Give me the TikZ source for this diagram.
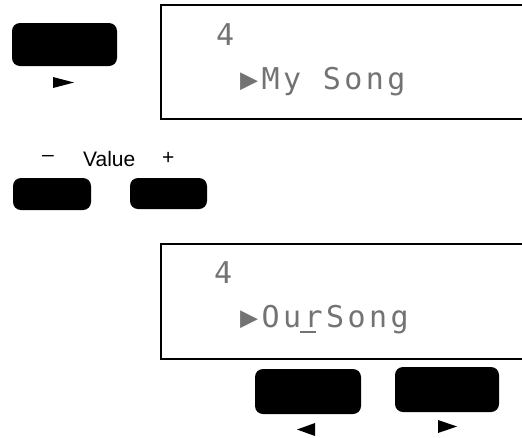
\documentclass[tikz,border=0pt]{standalone}
\usepackage{fontspec}
\setsansfont{Liberation Sans}
\newfontfamily\lcdfont[LetterSpace=11.5]{DejaVu Sans Mono}
\usetikzlibrary{positioning}

\tikzset{
  keybtn/.style={fill=black, rounded corners=8pt, inner sep=0pt},
  lcdframe/.style={line width=2pt},
  lcdtext/.style={font=\lcdfont\fontsize{30}{30}\selectfont, text=black!55, inner sep=0pt, anchor=base west},
  paneltext/.style={font=\sffamily\fontsize{21}{21}\selectfont, inner sep=0pt, anchor=base west},
}

\begin{document}
\begin{tikzpicture}[x=1pt, y=-1pt]
  \useasboundingbox (0,0) rectangle (522,437);

  % Keys
  \foreach \name/\cx/\cy/\w/\h in {playkey/64.5/44.5/105/43, minuskey/52/194/78/32,
      pluskey/168.5/193.5/77/31, leftkey/308/391.5/106/45, rightkey/447/389.5/104/45} {
    \node[keybtn, minimum width=\w pt, minimum height=\h pt] (\name) at (\cx,\cy) {};
  }

  % Direction marks under the keys
  \fill (53,77) -- (74,82.5) -- (53,88) -- cycle;
  \fill (315,423) -- (297,429.5) -- (315,436) -- cycle;
  \fill (438,420) -- (457,426.5) -- (438,433) -- cycle;

  % Value labels
  \node[paneltext] (minuslbl) at (42,161) {–};
  \node[paneltext] (valuelbl) at (83,166) {Value};
  \node[paneltext] (pluslbl) at (162,164) {+};

  % Displays
  \draw[lcdframe] (522,5) -| (161,118.5) -- (522,118.5);
  \node[lcdtext] (topnum) at (216,45) {4};
  \node[lcdtext] (topname) at (240,89) {▶My Song};

  \draw[lcdframe] (522,244) -| (160.5,358.5) -- (522,358.5);
  \node[lcdtext] (botnum) at (214,283) {4};
  \node[lcdtext] (botname) at (240,327) {▶OurSong};
  \draw[line width=1.5pt, black!55] (300,332) -- (316,332);
\end{tikzpicture}
\end{document}
